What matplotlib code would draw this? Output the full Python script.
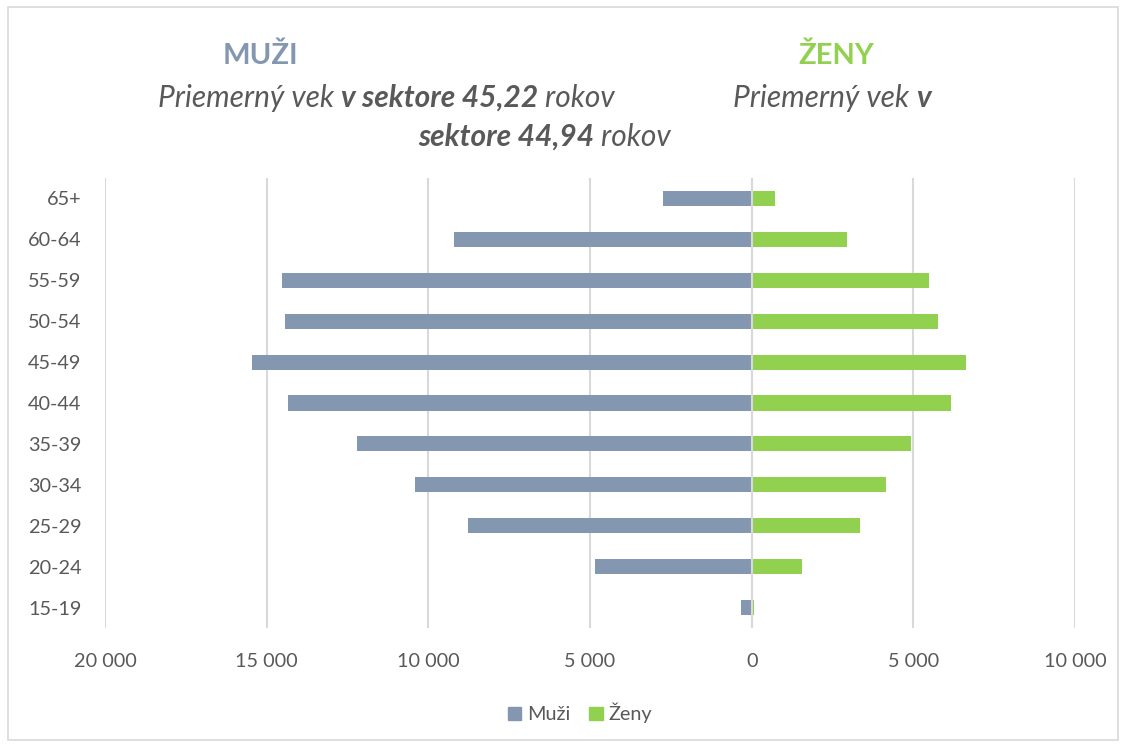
import numpy as np
import matplotlib.pyplot as plt
from matplotlib.patches import Patch, Rectangle

plt.rcParams['font.family'] = ['Lato', 'DejaVu Sans']

# age groups from bottom to top
groups = ['15-19', '20-24', '25-29', '30-34', '35-39', '40-44',
          '45-49', '50-54', '55-59', '60-64', '65+']
muzi = [330, 4860, 8780, 10420, 12210, 14330, 15450, 14430, 14520, 9220, 2750]
zeny = [60, 1550, 3350, 4150, 4920, 6150, 6630, 5760, 5480, 2950, 720]

xticks = [-20000, -15000, -10000, -5000, 0, 5000, 10000]
xticklabels = ['20 000', '15 000', '10 000', '5 000', '0', '5 000', '10 000']

c_muzi = '#8497B0'
c_zeny = '#92D050'
c_text = '#595959'
c_grid = '#D9D9D9'

fig = plt.figure(figsize=(11.26, 7.46), dpi=100)
ax = fig.add_axes([0.0933, 0.1582, 0.8614, 0.6032])

y = np.arange(len(groups))
ax.barh(y, -np.array(muzi), height=0.37, color=c_muzi, label='Muži', zorder=2)
ax.barh(y, zeny, height=0.37, color=c_zeny, label='Ženy', zorder=2)
ax.axvline(0, color=c_grid, lw=1.5, zorder=3)

ax.set_xlim(-20000, 10000)
ax.set_ylim(-0.5, len(groups) - 0.5)
ax.set_xticks(xticks)
ax.set_xticklabels(xticklabels)
ax.set_yticks(y)
ax.set_yticklabels(groups)
ax.grid(axis='x', color=c_grid, lw=1.5, zorder=0)
ax.set_axisbelow(True)
for s in ax.spines.values():
    s.set_visible(False)
ax.tick_params(length=0, labelsize=14.3, labelcolor=c_text)
ax.tick_params(axis='x', pad=18)
ax.tick_params(axis='y', pad=17)

# headings
fig.text(260 / 1126, 1 - 56 / 746, 'MUŽI', color=c_muzi, fontsize=21,
         fontweight='bold', ha='center', va='center')
fig.text(836 / 1126, 1 - 56 / 746, 'ŽENY', color=c_zeny, fontsize=21,
         fontweight='bold', ha='center', va='center')


def chain(parts, x, yb):
    prev = None
    for s, bold in parts:
        kw = dict(color=c_text, fontsize=21.5, style='italic',
                  fontweight='bold' if bold else 'normal', va='bottom', ha='left')
        if prev is None:
            prev = fig.text(x, yb, s, **kw)
        else:
            prev = ax.annotate(s, xy=(1, 0), xycoords=prev,
                               annotation_clip=False, **kw)


chain([('Priemerný vek ', False), ('v sektore 45,22', True), (' rokov', False)],
      158 / 1126, 1 - 112 / 746)
chain([('Priemerný vek ', False), ('v', True)], 733 / 1126, 1 - 112 / 746)
chain([('sektore 44,94', True), (' rokov', False)], 418 / 1126, 1 - 151 / 746)

handles = [Patch(color=c_muzi, label='Muži'), Patch(color=c_zeny, label='Ženy')]
fig.legend(handles=handles, loc='center', bbox_to_anchor=(0.515, 0.044), ncol=2,
           frameon=False, fontsize=14.3, labelcolor=c_text, handlelength=0.7,
           handleheight=0.7, handletextpad=0.3, columnspacing=0.9)

fig.patches.append(Rectangle((8 / 1126, 6 / 746), 1110 / 1126, 733 / 746,
                             transform=fig.transFigure, fill=False,
                             edgecolor=c_grid, lw=1.2))

fig.savefig('out.png', dpi=100)
